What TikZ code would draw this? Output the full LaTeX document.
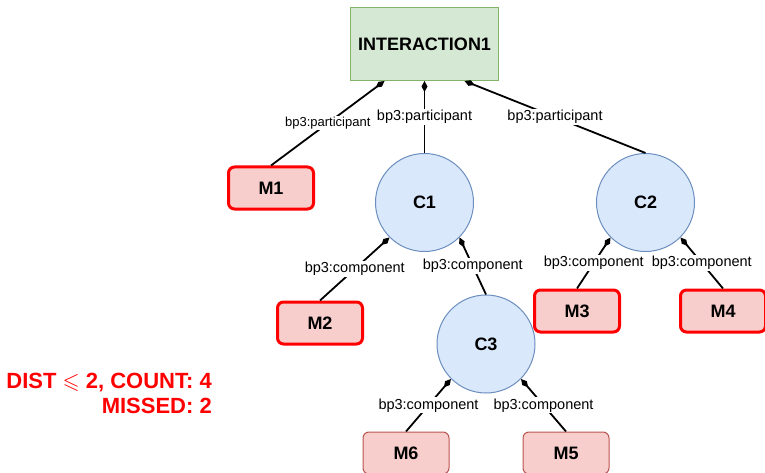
\documentclass[tikz,border=0pt]{standalone}
\usepackage{amssymb}
\usepackage{fontspec}
\setmainfont{Liberation Sans}
\usetikzlibrary{arrows.meta}
\definecolor{greenfill}{HTML}{D5E8D4}
\definecolor{greenline}{HTML}{82B366}
\definecolor{bluefill}{HTML}{DAE8FC}
\definecolor{blueline}{HTML}{6C8EBF}
\definecolor{redfill}{HTML}{F8CECC}
\definecolor{redline}{HTML}{B85450}
\definecolor{hotred}{HTML}{FF0000}
\begin{document}
\begin{tikzpicture}[x=1pt,y=-1pt,
  boxlabel/.style={font=\fontsize{18}{20}\selectfont\bfseries},
  interbox/.style={boxlabel, draw=greenline, fill=greenfill, line width=1pt, minimum width=148pt, minimum height=73pt, inner sep=0pt},
  compcircle/.style={boxlabel, circle, draw=blueline, fill=bluefill, line width=1pt, minimum size=98pt, inner sep=0pt},
  hitbox/.style={boxlabel, draw=hotred, fill=redfill, line width=3pt, rounded corners=6pt, minimum width=85pt, minimum height=42pt, inner sep=0pt},
  missbox/.style={boxlabel, draw=redline, fill=redfill, line width=1pt, rounded corners=6pt, minimum width=86pt, minimum height=42pt, inner sep=0pt},
  rel/.style={{Diamond[length=11pt,width=6pt]}-, line width=1.8pt, black},
  rellabel/.style={midway, fill=white, inner sep=1pt, font=\fontsize{14.5}{16}\selectfont},
  smalllabel/.style={rellabel, font=\fontsize{13}{15}\selectfont},
  stat/.style={anchor=base east, text=hotred, font=\fontsize{22}{25}\selectfont\bfseries, inner sep=0pt}
]
\useasboundingbox (0,0) rectangle (765,473);

\node[interbox] (I) at (424.5,44) {INTERACTION1};
\node[hitbox] (M1) at (271,188) {M1};
\node[compcircle] (C1) at (424.5,202.5) {C1};
\node[compcircle] (C2) at (645.5,202.5) {C2};
\node[hitbox] (M2) at (320,323) {M2};
\node[compcircle] (C3) at (486,344) {C3};
\node[hitbox] (M3) at (577,311) {M3};
\node[hitbox] (M4) at (723,311) {M4};
\node[missbox] (M6) at (406,453) {M6};
\node[missbox] (M5) at (566,453) {M5};

\draw[rel] ([xshift=-40pt]I.south) -- (M1.north) node[smalllabel] {bp3:participant};
\draw[rel] (I.south) -- (C1.north) node[rellabel] {bp3:participant};
\draw[rel] ([xshift=40pt]I.south) -- (C2.north) node[rellabel] {bp3:participant};
\draw[rel] (C1.225) -- (M2.north) node[rellabel] {bp3:component};
\draw[rel] (C1.-45) -- (C3.north) node[rellabel] {bp3:component};
\draw[rel] (C2.225) -- (M3.north) node[rellabel] {bp3:component};
\draw[rel] (C2.-45) -- (M4.north) node[rellabel] {bp3:component};
\draw[rel] (C3.225) -- (M6.north) node[rellabel] {bp3:component};
\draw[rel] (C3.-45) -- (M5.north) node[rellabel] {bp3:component};

\node[stat] (stat1) at (212,388) {DIST $\leqslant$ 2, COUNT: 4};
\node[stat] (stat2) at (212,413) {MISSED: 2};
\end{tikzpicture}
\end{document}
